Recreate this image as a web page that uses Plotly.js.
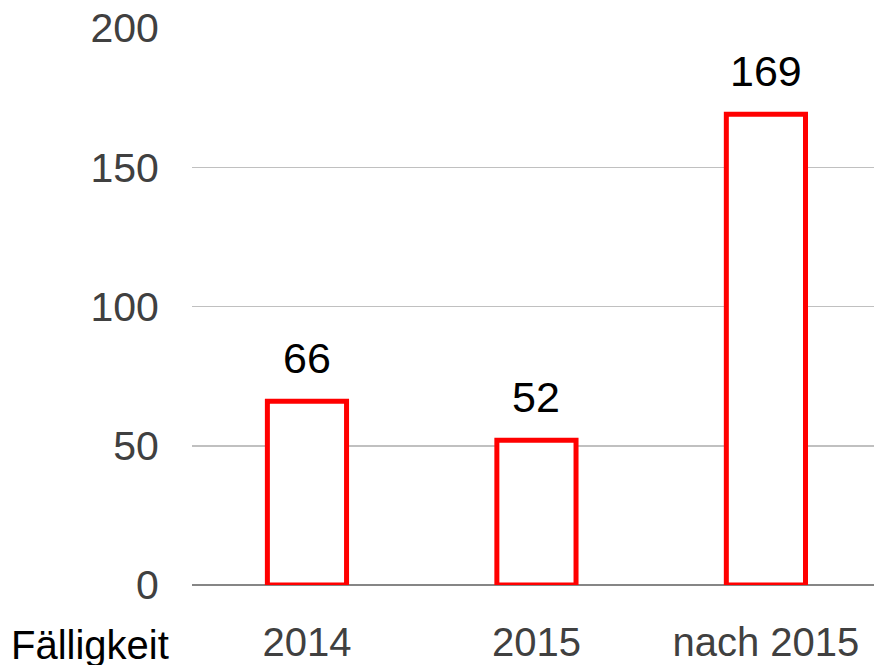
<!DOCTYPE html>
<html>
<head>
<meta charset="utf-8">
<script src="https://cdn.plot.ly/plotly-3.0.1.min.js"></script>
<style>html,body{margin:0;padding:0;background:#fff;}#chart{width:874px;height:665px;}</style>
</head>
<body>
<div id="chart"></div>
<script>
const categories = ["2014", "2015", "nach 2015"];
const values = [66, 52, 169];
const yTicks = [0, 50, 100, 150, 200];
const axisCaption = "Fälligkeit";

const FONT = "Liberation Sans, Arial, sans-serif";

const trace = {
  type: "bar",
  x: categories,
  y: values,
  width: 0.345,
  marker: { color: "#ffffff", line: { color: "#ff0000", width: 5 } },
  hoverinfo: "none"
};

const labelAnnotations = categories.map((c, i) => ({
  x: i, y: values[i], xref: "x", yref: "y",
  text: String(values[i]), showarrow: false,
  yanchor: "bottom", yshift: 17,
  font: { family: FONT, size: 43, color: "#000000" }
}));

const layout = {
  width: 874, height: 665,
  margin: { l: 192, r: 0, t: 28, b: 80, pad: 0 },
  paper_bgcolor: "#ffffff", plot_bgcolor: "#ffffff",
  showlegend: false,
  xaxis: {
    type: "category",
    range: [-0.501, 2.471],
    showgrid: false, zeroline: false, showline: false,
    ticks: "outside", ticklen: 22, tickcolor: "rgba(0,0,0,0)",
    tickfont: { family: FONT, size: 40, color: "#404040" }
  },
  yaxis: {
    range: [0, 200],
    tickvals: yTicks,
    showgrid: true, gridcolor: "#c0c0c0", gridwidth: 1.5,
    zeroline: true, zerolinecolor: "#868686", zerolinewidth: 2,
    showline: false,
    ticks: "outside", ticklen: 24, tickcolor: "rgba(0,0,0,0)",
    tickfont: { family: FONT, size: 41, color: "#404040" }
  },
  annotations: labelAnnotations.concat([{
    xref: "paper", yref: "paper",
    x: (90 - 192) / 682, y: -0.107,
    xanchor: "center", yanchor: "middle",
    text: axisCaption, showarrow: false,
    font: { family: FONT, size: 40, color: "#000000" }
  }])
};

Plotly.newPlot("chart", [trace], layout, { displayModeBar: false, staticPlot: true });
</script>
</body>
</html>
